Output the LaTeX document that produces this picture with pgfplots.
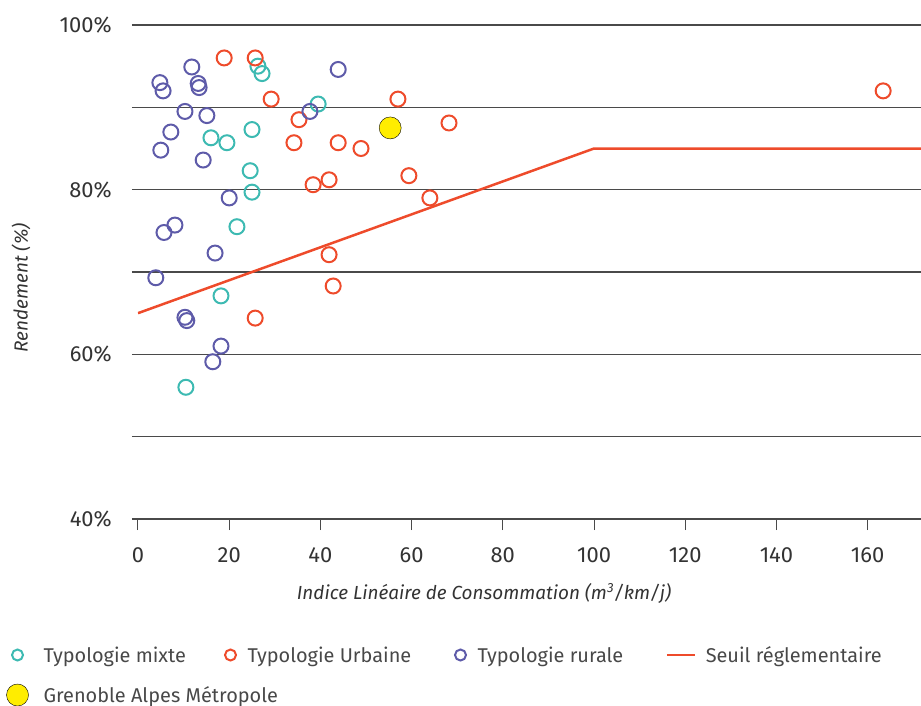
\documentclass[border=0pt]{standalone}
\usepackage{fontspec}
\setmainfont{Fira Sans}
\usepackage{pgfplots}
\pgfplotsset{compat=1.18}
\definecolor{cmixte}{HTML}{3DBAB2}
\definecolor{curb}{HTML}{EE4B2B}
\definecolor{crur}{HTML}{5E5BA9}
\definecolor{cgam}{HTML}{FFED00}
\definecolor{cgrid}{HTML}{4A4A4A}
\definecolor{ctext}{HTML}{333333}
\definecolor{cleg}{HTML}{484848}
\pgfplotsset{
 legA/.style={legend image code/.code={\draw[##1, mark size=5.5bp] plot coordinates {(0bp,0bp)}; \path[draw=none,fill=none] (-9bp,-9bp) rectangle (26bp,9bp);}},
 legB/.style={legend image code/.code={\draw[##1, mark size=5.5bp] plot coordinates {(0bp,0bp)}; \path[draw=none,fill=none] (-9bp,-9bp) rectangle (17bp,9bp);}},
 legL/.style={legend image code/.code={\draw[##1] (0bp,0bp) -- (28bp,0bp); \path[draw=none,fill=none] (0bp,-9bp) rectangle (39bp,9bp);}},
 legY/.style={legend image code/.code={\draw[##1] plot coordinates {(0bp,0bp)}; \path[draw=none,fill=none] (-12bp,-12bp) rectangle (25bp,12bp);}},
}
\begin{document}
\begin{tikzpicture}
\begin{axis}[
 scale only axis, width=783bp, height=494bp,
 xmin=0, xmax=171.7, ymin=40, ymax=100,
 axis x line*=bottom, axis y line*=left,
 y axis line style={draw=none},
 x axis line style={draw=cgrid, line width=1.3bp},
 tick align=outside,
 xtick={0,20,...,160},
 ytick={40,50,...,100},
 yticklabels={40\%,,60\%,,80\%,,100\%},
 major tick length=11bp,
 xtick style={draw=cgrid, line width=1bp},
 ytick style={draw=cgrid, line width=1.3bp, /pgfplots/major tick length=6bp},
 ymajorgrids, grid style={draw=cgrid, line width=1.3bp},
 ticklabel style={font=\fontsize{22}{24}\selectfont, text=ctext, inner sep=0pt},
 xticklabel style={anchor=north, yshift=-17bp},
 yticklabel style={anchor=east, xshift=-15bp},
 /pgf/number format/assume math mode=true,
 xlabel={Indice Linéaire de Consommation (m\textsuperscript{3}/km/j)},
 ylabel={Rendement (\%)},
 xlabel style={at={(axis description cs:0.442,-0.162)}, anchor=base, font=\itshape\fontsize{19}{22}\selectfont, text=ctext, inner sep=0pt},
 ylabel style={at={(axis description cs:-0.141,0.468)}, anchor=base, font=\itshape\fontsize{19}{22}\selectfont, text=ctext, inner sep=0pt},
 legend columns=4, legend cell align=left,
 legend style={draw=none, fill=none, inner sep=0pt, outer sep=0pt,
   at={(axis description cs:-0.1692,-0.2571)}, anchor=north west,
   font=\fontsize{20}{24}\selectfont, text=cleg,
   row sep=19bp, column sep=0pt,
   nodes={inner sep=0pt, text height=14bp, text depth=0pt}},
]
% Typologie mixte
\addplot[only marks, mark=o, mark size=7.5bp, line width=2bp, draw=cmixte, legA]
 coordinates {
 (10.5,56.0) (18.2,67.1) (21.7,75.5) (25.0,79.7) (24.6,82.3) (19.5,85.7)
 (16.0,86.3) (25.0,87.3) (39.5,90.4) (26.3,95.0) (27.2,94.1)
 };
\addlegendentry{\makebox[178bp][l]{Typologie mixte}}
% Typologie Urbaine
\addplot[only marks, mark=o, mark size=7.5bp, line width=2bp, draw=curb, legB]
 coordinates {
 (18.9,96.0) (25.7,96.0) (29.2,91.0) (35.3,88.5) (34.2,85.7) (38.4,80.6)
 (41.9,81.2) (43.9,85.7) (48.9,85.0) (57.0,91.0) (68.2,88.1) (59.4,81.7)
 (64.0,79.0) (41.9,72.1) (42.8,68.3) (25.7,64.4) (163.4,92.0)
 };
\addlegendentry{\makebox[204bp][l]{Typologie Urbaine}}
% Typologie rurale
\addplot[only marks, mark=o, mark size=7.5bp, line width=2bp, draw=crur, legB]
 coordinates {
 (4.8,93.0) (5.5,92.0) (11.8,94.9) (13.2,92.9) (13.4,92.4) (10.3,89.5)
 (15.1,89.0) (7.2,87.0) (5.0,84.8) (14.3,83.6) (20.0,79.0) (8.1,75.7)
 (5.7,74.8) (16.9,72.3) (3.9,69.3) (10.3,64.5) (10.7,64.1) (18.2,61.0)
 (16.4,59.1) (37.7,89.5) (43.9,94.6)
 };
\addlegendentry{\makebox[188bp][l]{Typologie rurale}}
% Seuil
\addplot[curb, line width=2.5bp, no marks, legL]
 coordinates {(0,65) (100,85) (171.7,85)};
\addlegendentry{Seuil réglementaire}
% Grenoble
\addplot[only marks, mark=*, mark size=11bp, draw=none, fill=cgam, legY]
 coordinates {(55.3,87.5)};
\addlegendentry{\makebox[178bp][l]{Grenoble Alpes Métropole}}
\end{axis}
\pgfresetboundingbox
\path[use as bounding box] (-138bp,-187bp) rectangle (783bp,519bp);
\end{tikzpicture}
\end{document}
